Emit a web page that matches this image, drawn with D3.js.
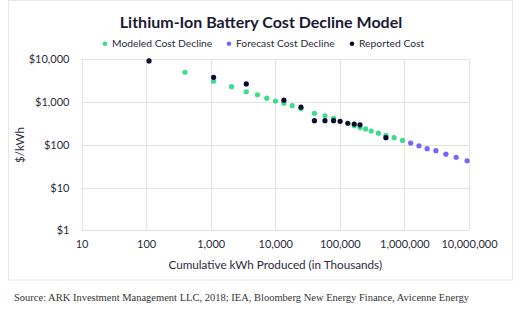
<!DOCTYPE html>
<html>
<head>
<meta charset="utf-8">
<script src="https://cdn.jsdelivr.net/npm/d3@7"></script>
<style>
  html, body { margin: 0; padding: 0; background: #fff; }
  svg { display: block; }
</style>
</head>
<body>
<svg id="chart" width="520" height="322"></svg>
<script>
const title = "Lithium-Ion Battery Cost Decline Model";
const seriesNames = ["Modeled Cost Decline", "Forecast Cost Decline", "Reported Cost"];
const seriesColors = ["#3ddc8f", "#7b61ff", "#0d0d2b"];

const modeledX = [400, 1110, 2100, 3560, 5300, 7400, 10100, 13600, 18300, 25000, 40400, 58800, 80000, 167000, 206000, 251000, 306000, 396000, 517000, 693000, 931000];
const modeledY = [5000, 3080, 2300, 1750, 1490, 1240, 1060, 945, 826, 700, 549, 479, 419, 281, 251, 236, 211, 188, 166, 147, 127];

const forecastX = [1250000, 1680000, 2250000, 3070000, 4390000, 6340000, 9350000];
const forecastY = [110, 95, 81.5, 73, 60.6, 51.3, 42.5];

const reportedX = [111, 1110, 3560, 13600, 25000, 40400, 58800, 80000, 101000, 133000, 167000, 205000, 517000];
const reportedY = [9200, 3800, 2660, 1110, 762, 368, 368, 368, 356, 320, 307, 295, 147];

const xTicks = [10, 100, 1000, 10000, 100000, 1000000, 10000000];
const yTicks = [1, 10, 100, 1000, 10000];
const xTitle = "Cumulative kWh Produced (in Thousands)";
const yTitle = "$/kWh";
const source = "Source: ARK Investment Management LLC, 2018; IEA, Bloomberg New Energy Finance, Avicenne Energy";

const svg = d3.select("#chart");
const font = "Lato, 'Open Sans', sans-serif";
const ink = "#1a1a33";

// outer frame
svg.append("rect").attr("x", 8.5).attr("y", 0.5).attr("width", 504).attr("height", 279.5)
  .attr("fill", "#fff").attr("stroke", "#e8e8e8").attr("stroke-width", 1);

const x = d3.scaleLog().domain([10, 10000000]).range([81.5, 469]);
const y = d3.scaleLog().domain([1, 10000]).range([230.3, 59.4]);

// grid
svg.append("g").selectAll("line").data(yTicks).join("line")
  .attr("x1", x.range()[0]).attr("x2", x.range()[1])
  .attr("y1", d => Math.round(y(d)) + 0.5).attr("y2", d => Math.round(y(d)) + 0.5)
  .attr("stroke", "#e3e3e3").attr("stroke-width", 1);
svg.append("g").selectAll("line").data(xTicks).join("line")
  .attr("y1", y.range()[0]).attr("y2", y.range()[1])
  .attr("x1", d => Math.round(x(d)) + 0.5).attr("x2", d => Math.round(x(d)) + 0.5)
  .attr("stroke", "#e3e3e3").attr("stroke-width", 1);

// axes via d3 axis generators (labels only)
const fmt = d3.format(",");
const yAxis = svg.append("g").attr("transform", `translate(${x.range()[0]},0)`)
  .call(d3.axisLeft(y).tickValues(yTicks).tickFormat(d => "$" + fmt(d)).tickSize(0).tickPadding(12));
const xAxis = svg.append("g").attr("transform", `translate(0,${y.range()[0]})`)
  .call(d3.axisBottom(x).tickValues(xTicks).tickFormat(d => fmt(d)).tickSize(0).tickPadding(10));
[yAxis, xAxis].forEach(a => {
  a.select(".domain").remove();
  a.selectAll("text").attr("font-family", font).attr("font-size", 11).attr("fill", "#2a2a3a");
});

// points
const sets = [
  {xs: modeledX, ys: modeledY, c: seriesColors[0]},
  {xs: forecastX, ys: forecastY, c: seriesColors[1]},
  {xs: reportedX, ys: reportedY, c: seriesColors[2]}
];
sets.forEach(s => {
  svg.append("g").selectAll("circle").data(s.xs.map((v, i) => [v, s.ys[i]])).join("circle")
    .attr("cx", d => x(d[0])).attr("cy", d => y(d[1])).attr("r", 2.6).attr("fill", s.c);
});

// title
svg.append("text").attr("x", 261).attr("y", 28).attr("text-anchor", "middle")
  .attr("font-family", font).attr("font-weight", 700).attr("font-size", 16).attr("fill", ink).text(title);

// legend
const legX = [105, 229, 352];
seriesNames.forEach((n, i) => {
  svg.append("circle").attr("cx", legX[i]).attr("cy", 43.7).attr("r", 2.3).attr("fill", seriesColors[i]);
  svg.append("text").attr("x", legX[i] + 7).attr("y", 47.3).attr("font-family", font).attr("font-size", 10.3)
    .attr("fill", "#2a2a3a").text(n);
});

// axis titles
svg.append("text").attr("x", (x.range()[0] + x.range()[1]) / 2).attr("y", 269).attr("text-anchor", "middle")
  .attr("font-family", font).attr("font-size", 11.7).attr("fill", "#2a2a3a").text(xTitle);
svg.append("text").attr("transform", `translate(24,145) rotate(-90)`).attr("text-anchor", "middle")
  .attr("font-family", font).attr("font-size", 11.5).attr("fill", "#2a2a3a").text(yTitle);

// source
svg.append("text").attr("x", 14).attr("y", 301).attr("font-family", "'Liberation Serif', 'DejaVu Serif', serif")
  .attr("font-size", 10.5).attr("fill", "#333").text(source);
</script>
</body>
</html>
